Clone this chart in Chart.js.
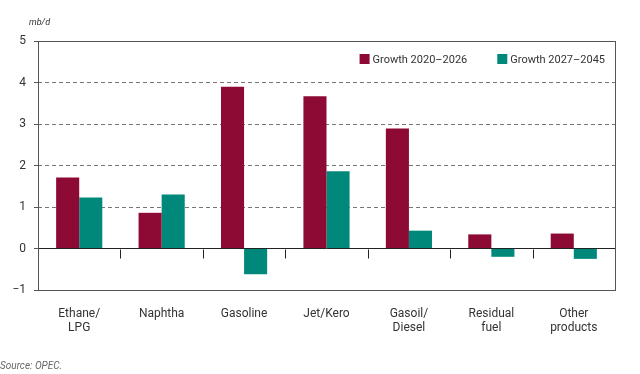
<!DOCTYPE html>
<html>
<head>
<meta charset="utf-8">
<script src="https://cdn.jsdelivr.net/npm/chart.js@4"></script>
<style>
    html, body { margin: 0; padding: 0; background: #fff; }
    #wrap { position: relative; width: 640px; height: 374px; }
</style>
</head>
<body>
<div id="wrap"><canvas id="chart" width="640" height="374"></canvas></div>
<script>
// Chart data
const categories = [['Ethane/', 'LPG'], 'Naphtha', 'Gasoline', 'Jet/Kero', ['Gasoil/', 'Diesel'], ['Residual', 'fuel'], ['Other', 'products']];
const growth2020to2026 = [1.71, 0.86, 3.90, 3.67, 2.89, 0.34, 0.36];
const growth2027to2045 = [1.23, 1.30, -0.62, 1.86, 0.43, -0.20, -0.25];
const seriesLabels = ['Growth 2020\u20132026', 'Growth 2027\u20132045'];
const seriesColors = ['#8c0a33', '#00897b'];
const unitLabel = 'mb/d';
const sourceNote = 'Source: OPEC.';

const FONT = 'Roboto, "DejaVu Sans", sans-serif';
const TEXT = '#333';

/**
 * Frame, category ticks on zero line, legend and notes
 */
const decorations = {
    id: 'decorations',
    afterDraw(chart) {
        const { ctx, chartArea, scales } = chart;
        const x = scales.x;
        const y = scales.y;
        ctx.save();

        // plot frame
        ctx.strokeStyle = '#555';
        ctx.lineWidth = 1;
        ctx.strokeRect(chartArea.left + 0.5, chartArea.top + 0.5,
            chartArea.right - chartArea.left, chartArea.bottom - chartArea.top);

        // small ticks between categories below the zero line
        const zeroY = Math.round(y.getPixelForValue(0)) + 0.5;
        ctx.strokeStyle = '#222';
        for (let i = 1; i < categories.length; i++) {
            const px = Math.round((x.getPixelForTick(i - 1) + x.getPixelForTick(i)) / 2) + 0.5;
            ctx.beginPath();
            ctx.moveTo(px, zeroY);
            ctx.lineTo(px, zeroY + 9);
            ctx.stroke();
        }

        // legend inside the plot, top right
        ctx.font = '11px ' + FONT;
        ctx.textBaseline = 'middle';
        const box = 10, gap = 3, spacing = 30;
        const widths = seriesLabels.map(l => ctx.measureText(l).width);
        const total = widths.reduce((a, w) => a + box + gap + w, 0) + spacing * (seriesLabels.length - 1);
        let lx = chartArea.right - 10 - total;
        const ly = chartArea.top + 18;
        seriesLabels.forEach((label, i) => {
            ctx.fillStyle = seriesColors[i];
            ctx.fillRect(lx, ly - box / 2, box, box);
            ctx.fillStyle = TEXT;
            ctx.fillText(label, lx + box + gap, ly + 1);
            lx += box + gap + widths[i] + spacing;
        });

        // unit label and source
        ctx.font = 'italic 9px ' + FONT;
        ctx.fillStyle = TEXT;
        ctx.fillText(unitLabel, 29, 23);
        ctx.font = 'italic 10px ' + FONT;
        ctx.fillStyle = '#666';
        ctx.fillText(sourceNote, 0, 366);
        ctx.restore();
    }
};

new Chart(document.getElementById('chart').getContext('2d'), {
    type: 'bar',
    data: {
        labels: categories,
        datasets: [{
            label: seriesLabels[0],
            data: growth2020to2026,
            backgroundColor: seriesColors[0],
            barPercentage: 1,
            categoryPercentage: 0.56
        }, {
            label: seriesLabels[1],
            data: growth2027to2045,
            backgroundColor: seriesColors[1],
            barPercentage: 1,
            categoryPercentage: 0.56
        }]
    },
    options: {
        responsive: false,
        animation: false,
        layout: {
            padding: { top: 41, right: 25, left: 0, bottom: 0 }
        },
        plugins: {
            legend: { display: false },
            tooltip: { enabled: false }
        },
        scales: {
            x: {
                afterFit(scale) { scale.height = 84; },
                grid: { display: false },
                border: { display: false },
                ticks: {
                    color: TEXT,
                    padding: 9,
                    maxRotation: 0,
                    autoSkip: false,
                    font: { family: FONT, size: 12, lineHeight: 1.17 }
                }
            },
            y: {
                min: -1,
                max: 5,
                afterFit(scale) { scale.width = 38; },
                border: {
                    display: false,
                    dash: function(context) {
                        const v = context.tick ? context.tick.value : 0;
                        return (v > 0 && v < 5) ? [4, 3] : [];
                    }
                },
                grid: {
                    color: function(context) {
                        const v = context.tick ? context.tick.value : 0;
                        if (v === 0) return '#222';
                        return (v > 0 && v < 5) ? '#777' : '#555';
                    },
                    tickColor: '#555',
                    tickLength: 4,
                    lineWidth: 1
                },
                ticks: {
                    stepSize: 1,
                    color: TEXT,
                    padding: 8,
                    font: { family: FONT, size: 12 },
                    callback: function(value) {
                        return value < 0 ? '\u2212' + Math.abs(value) : value;
                    }
                }
            }
        }
    },
    plugins: [decorations]
});
</script>
</body>
</html>
